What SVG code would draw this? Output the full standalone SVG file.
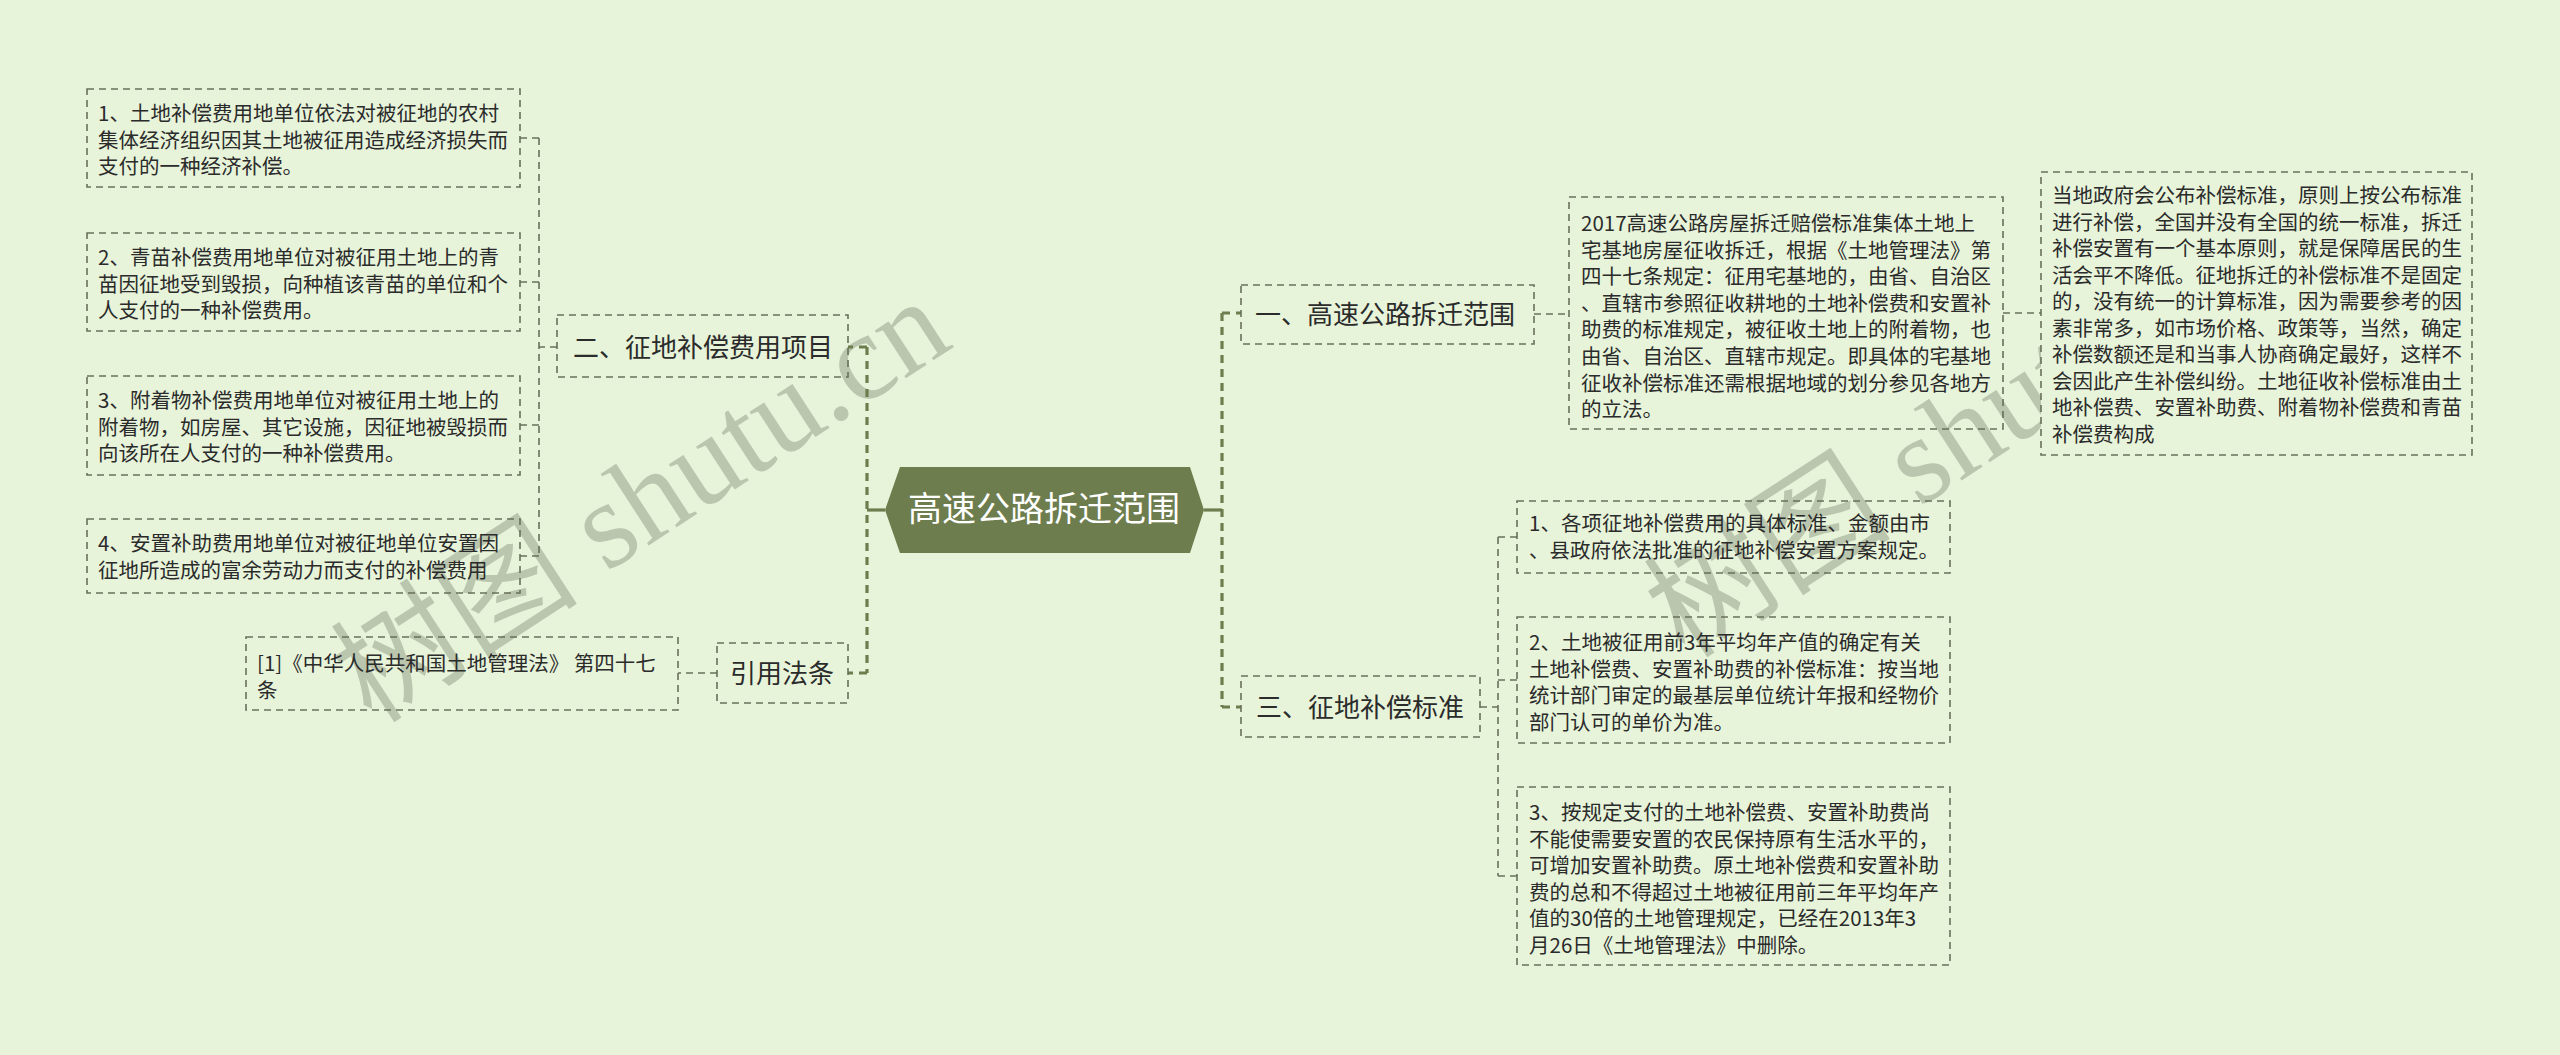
<svg xmlns="http://www.w3.org/2000/svg" width="2560" height="1055" viewBox="0 0 2560 1055">
<style>
.bg{fill:#e7f4da}
.box{fill:none;stroke:#6a705a;stroke-width:1.6;stroke-dasharray:7 5}
.boxo{fill:#e7f4da;stroke:#6a705a;stroke-width:1.6;stroke-dasharray:7 5}
.t{font-family:"Noto Sans CJK SC","Microsoft YaHei",sans-serif;font-size:20.5px;fill:#2b2b2b}
.h{font-family:"Noto Sans CJK SC","Microsoft YaHei",sans-serif;font-size:26px;fill:#2b2b2b}
.c{font-family:"Noto Sans CJK SC","Microsoft YaHei",sans-serif;font-size:34px;fill:#ffffff}
.main{fill:none;stroke:#6d7d4e;stroke-width:3.2;stroke-dasharray:8 6}
.solid{fill:none;stroke:#6d7d4e;stroke-width:3.2}
.sub{fill:none;stroke:#6a705a;stroke-width:1.6;stroke-dasharray:7 5}
.wm{font-family:"Liberation Serif","Noto Sans CJK SC",serif;font-size:124px;fill:#b3bfa7;opacity:0.85}
</style>
<rect class="bg" x="0" y="0" width="2560" height="1055"/>
<g id="watermarks">
<text class="wm" x="372" y="725" transform="rotate(-33 372 725)">树图 shutu.cn</text>
<text class="wm" x="1685" y="660" transform="rotate(-33 1685 660)">树图 shutu.cn</text>
</g>
<g id="connectors">
<path class="solid" d="M885 510H867"/>
<path class="main" d="M867 347V673"/>
<path class="main" d="M867 347H848M867 673H848"/>
<path class="solid" d="M1204 510H1222"/>
<path class="main" d="M1222 313V707"/>
<path class="main" d="M1222 313H1241M1222 707H1241"/>
<path class="sub" d="M557 347H539M539 138V556M539 138H520M539 282H520M539 425H520M539 556H520"/>
<path class="sub" d="M717 673H678"/>
<path class="sub" d="M1534 314H1569"/>
<path class="sub" d="M2003 313H2041"/>
<path class="sub" d="M1480 707H1498M1498 537V876M1498 537H1517M1498 680H1517M1498 876H1517"/>
</g>
<g id="center">
<polygon points="885,510 900,467 1190,467 1204,510 1190,553 900,553" fill="#6d7d4e"/>
<text class="c" x="1044" y="521" text-anchor="middle">高速公路拆迁范围</text>
</g>
<g id="n2">
<rect class="box" x="557" y="315" width="291" height="62"/>
<text class="h" x="573" y="357">二、征地补偿费用项目</text>
</g>
<g id="n2-1">
<rect class="box" x="87" y="89" width="433" height="98"/>
<text class="t" x="98" y="121">1、土地补偿费用地单位依法对被征地的农村</text>
<text class="t" x="98" y="147.5">集体经济组织因其土地被征用造成经济损失而</text>
<text class="t" x="98" y="174">支付的一种经济补偿。</text>
</g>
<g id="n2-2">
<rect class="box" x="87" y="233" width="433" height="98"/>
<text class="t" x="98" y="265">2、青苗补偿费用地单位对被征用土地上的青</text>
<text class="t" x="98" y="291.5">苗因征地受到毁损，向种植该青苗的单位和个</text>
<text class="t" x="98" y="318">人支付的一种补偿费用。</text>
</g>
<g id="n2-3">
<rect class="box" x="87" y="376" width="433" height="99"/>
<text class="t" x="98" y="408">3、附着物补偿费用地单位对被征用土地上的</text>
<text class="t" x="98" y="434.5">附着物，如房屋、其它设施，因征地被毁损而</text>
<text class="t" x="98" y="461">向该所在人支付的一种补偿费用。</text>
</g>
<g id="n2-4">
<rect class="box" x="87" y="519" width="433" height="74"/>
<text class="t" x="98" y="551">4、安置补助费用地单位对被征地单位安置因</text>
<text class="t" x="98" y="577.5">征地所造成的富余劳动力而支付的补偿费用</text>
</g>
<g id="n4">
<rect class="box" x="717" y="643" width="131" height="60"/>
<text class="h" x="730" y="683">引用法条</text>
</g>
<g id="n4-1">
<rect class="box" x="246" y="637" width="432" height="73"/>
<text class="t" x="257" y="671">[1]《中华人民共和国土地管理法》 第四十七</text>
<text class="t" x="257" y="698">条</text>
</g>
<g id="n1">
<rect class="box" x="1241" y="285" width="293" height="59"/>
<text class="h" x="1255" y="324">一、高速公路拆迁范围</text>
</g>
<g id="n1-1">
<rect class="box" x="1569" y="197" width="434" height="232"/>
<text class="t" x="1581" y="231">2017高速公路房屋拆迁赔偿标准集体土地上</text>
<text class="t" x="1581" y="257.6">宅基地房屋征收拆迁，根据《土地管理法》第</text>
<text class="t" x="1581" y="284.2">四十七条规定：征用宅基地的，由省、自治区</text>
<text class="t" x="1581" y="310.8">、直辖市参照征收耕地的土地补偿费和安置补</text>
<text class="t" x="1581" y="337.4">助费的标准规定，被征收土地上的附着物，也</text>
<text class="t" x="1581" y="364">由省、自治区、直辖市规定。即具体的宅基地</text>
<text class="t" x="1581" y="390.6">征收补偿标准还需根据地域的划分参见各地方</text>
<text class="t" x="1581" y="417.2">的立法。</text>
</g>
<g id="n1-1-1">
<rect class="boxo" x="2041" y="172" width="431" height="283"/>
<text class="t" x="2052" y="203">当地政府会公布补偿标准，原则上按公布标准</text>
<text class="t" x="2052" y="229.5">进行补偿，全国并没有全国的统一标准，拆迁</text>
<text class="t" x="2052" y="256">补偿安置有一个基本原则，就是保障居民的生</text>
<text class="t" x="2052" y="282.5">活会平不降低。征地拆迁的补偿标准不是固定</text>
<text class="t" x="2052" y="309">的，没有统一的计算标准，因为需要参考的因</text>
<text class="t" x="2052" y="335.5">素非常多，如市场价格、政策等，当然，确定</text>
<text class="t" x="2052" y="362">补偿数额还是和当事人协商确定最好，这样不</text>
<text class="t" x="2052" y="388.5">会因此产生补偿纠纷。土地征收补偿标准由土</text>
<text class="t" x="2052" y="415">地补偿费、安置补助费、附着物补偿费和青苗</text>
<text class="t" x="2052" y="441.5">补偿费构成</text>
</g>
<g id="n3">
<rect class="box" x="1241" y="676" width="239" height="61"/>
<text class="h" x="1256" y="717">三、征地补偿标准</text>
</g>
<g id="n3-1">
<rect class="box" x="1517" y="501" width="433" height="72"/>
<text class="t" x="1529" y="531">1、各项征地补偿费用的具体标准、金额由市</text>
<text class="t" x="1529" y="558">、县政府依法批准的征地补偿安置方案规定。</text>
</g>
<g id="n3-2">
<rect class="box" x="1517" y="617" width="433" height="126"/>
<text class="t" x="1529" y="650">2、土地被征用前3年平均年产值的确定有关</text>
<text class="t" x="1529" y="676.5">土地补偿费、安置补助费的补偿标准：按当地</text>
<text class="t" x="1529" y="703">统计部门审定的最基层单位统计年报和经物价</text>
<text class="t" x="1529" y="729.5">部门认可的单价为准。</text>
</g>
<g id="n3-3">
<rect class="box" x="1517" y="787" width="433" height="178"/>
<text class="t" x="1529" y="820">3、按规定支付的土地补偿费、安置补助费尚</text>
<text class="t" x="1529" y="846.5">不能使需要安置的农民保持原有生活水平的，</text>
<text class="t" x="1529" y="873">可增加安置补助费。原土地补偿费和安置补助</text>
<text class="t" x="1529" y="899.5">费的总和不得超过土地被征用前三年平均年产</text>
<text class="t" x="1529" y="926">值的30倍的土地管理规定，已经在2013年3</text>
<text class="t" x="1529" y="952.5">月26日《土地管理法》中删除。</text>
</g>
</svg>
